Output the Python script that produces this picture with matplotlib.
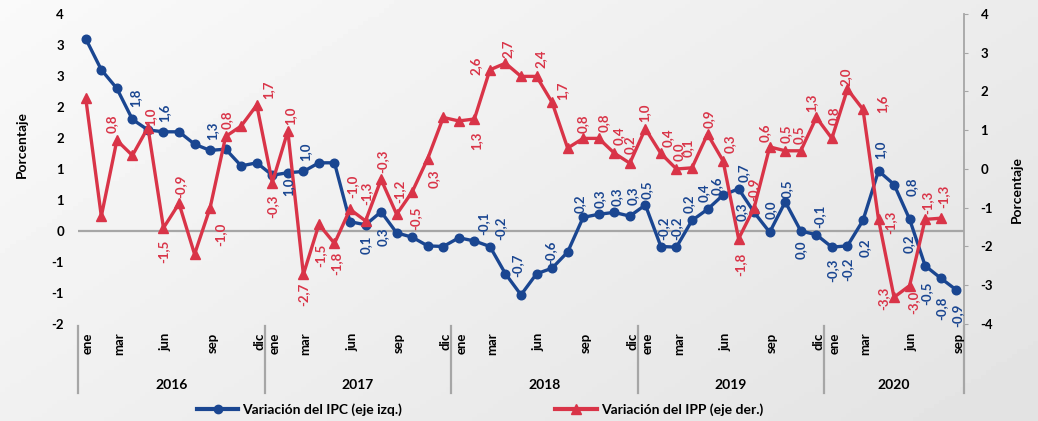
import numpy as np
import matplotlib.pyplot as plt
import matplotlib.transforms as mtransforms
from matplotlib.lines import Line2D

plt.rcParams['font.family'] = ['Lato', 'DejaVu Sans']

# --- Data ---
years = ['2016', '2017', '2018', '2019', '2020']
months_per_year = [12, 12, 12, 12, 9]
month_names = ['ene', 'feb', 'mar', 'abr', 'may', 'jun', 'jul', 'ago', 'sep', 'oct', 'nov', 'dic']
shown_months = ['ene', 'mar', 'jun', 'sep', 'dic']

ipc = [3.1, 2.6, 2.3, 1.8, 1.63, 1.6, 1.6, 1.4, 1.3, 1.32, 1.05, 1.1,
       0.9, 0.94, 0.96, 1.1, 1.1, 0.15, 0.1, 0.31, -0.03, -0.1, -0.24, -0.25,
       -0.11, -0.16, -0.25, -0.69, -1.03, -0.69, -0.6, -0.34, 0.22, 0.27, 0.3, 0.24,
       0.42, -0.25, -0.26, 0.17, 0.35, 0.58, 0.68, 0.3, -0.02, 0.47, 0.0, -0.06,
       -0.26, -0.24, 0.17, 0.97, 0.75, 0.19, -0.56, -0.76, -0.95]

ipp = [1.82, -1.22, 0.74, 0.35, 1.07, -1.52, -0.89, -2.2, -1.0, 0.84, 1.11, 1.65,
       -0.35, 0.98, -2.72, -1.43, -1.92, -1.04, -1.34, -0.27, -1.17, -0.59, 0.27, 1.33,
       1.24, 1.29, 2.56, 2.73, 2.39, 2.39, 1.72, 0.54, 0.79, 0.79, 0.41, 0.15,
       1.04, 0.40, 0.0, 0.03, 0.90, 0.21, -1.80, -1.0, 0.57, 0.47, 0.47, 1.33,
       0.79, 2.06, 1.54, -1.30, -3.31, -3.01, -1.30, -1.27, np.nan]

left_ticks = [-1.5, -1.0, -0.5, 0.0, 0.5, 1.0, 1.5, 2.0, 2.5, 3.0, 3.5]
left_tick_labels = ['-2', '-1', '-1', '0', '1', '1', '2', '2', '3', '3', '4']
right_ticks = [-4, -3, -2, -1, 0, 1, 2, 3, 4]

# data labels: month index and text
ipc_lbl_idx = [3, 5, 8, 13, 14, 18, 19, 26, 27, 28, 30, 32, 33, 34, 35, 36, 37, 38,
               39, 40, 41, 42, 43, 44, 45, 46, 47, 48, 49, 50, 51, 52, 53, 54, 55, 56]
ipc_lbl_txt = ['1,8', '1,6', '1,3', '1,0', '1,0', '0,1', '0,3', '-0,1', '-0,2', '-0,7',
               '-0,6', '0,2', '0,3', '0,3', '0,3', '0,5', '-0,2', '-0,2', '0,2', '0,4',
               '0,6', '0,7', '0,3', '0,0', '0,5', '0,0', '-0,1', '-0,3', '-0,2', '0,2',
               '1,0', '0,8', '0,2', '-0,5', '-0,8', '-0,9']
ipp_lbl_idx = [2, 4, 5, 6, 8, 9, 11, 12, 13, 14, 15, 16, 17, 18, 19, 20, 21, 22, 25, 26,
               27, 29, 30, 32, 33, 34, 35, 36, 37, 38, 39, 40, 41, 42, 43, 44, 45, 46,
               47, 48, 49, 50, 51, 52, 53, 54, 55]
ipp_lbl_txt = ['0,8', '1,0', '-1,5', '-0,9', '-1,0', '0,8', '1,7', '-0,3', '1,0', '-2,7',
               '-1,5', '-1,8', '-1,0', '-1,3', '-0,3', '-1,2', '-0,5', '0,3', '1,3', '2,6',
               '2,7', '2,4', '1,7', '0,8', '0,8', '0,4', '0,2', '1,0', '0,4', '0,0',
               '0,1', '0,9', '0,3', '-1,8', '-0,9', '0,6', '0,5', '0,5', '1,3', '0,8',
               '2,0', '1,6', '-1,3', '-3,3', '-3,0', '-1,3', '-1,3']

# label offsets from the point (pixels)
ipc_lbl_off = [(3, 22), (1, 19), (2, 20), (0, -14), (2, 20), (0, -20), (2, -25), (-7, 23),
               (-5, 45), (-4, 30), (-2, 16), (-3, 14), (1, 16), (2, 16), (3, 20), (1, 15),
               (2, 18), (0, 19), (-3, 17), (-4, 17), (-6, 9), (5, 16), (-12, 1), (1, 23),
               (1, 13), (0, -19), (3, 18), (0, -23), (0, -23), (2, -27), (2, 21), (18, -2),
               (-1, -25), (1, -28), (1, -30), (1, -25)]
ipp_lbl_off = [(-5, 17), (2, 11), (0, -23), (1, 17), (10, -27), (1, 17), (12, 15), (0, -24),
               (2, 15), (0, -20), (1, -31), (2, -20), (2, 23), (1, 28), (1, 18), (3, 23),
               (3, -26), (6, -20), (2, -22), (-14, 4), (2, 14), (4, 18), (10, 12), (0, 15),
               (5, 16), (4, 17), (0, 18), (-1, 16), (7, 16), (2, 17), (-4, 20), (1, 15),
               (7, 17), (2, -26), (-1, 18), (-5, 14), (0, 17), (-2, 16), (-5, 15), (2, 23),
               (-2, 12), (19, 6), (12, -3), (-11, -1), (4, -17), (2, 17), (3, 22)]

blue = '#1a4691'
red = '#d93448'
gray = '#a6a6a6'

x = np.arange(len(ipc))

fig = plt.figure(figsize=(10.38, 4.21), dpi=100)

# soft gradient background
ax_bg = fig.add_axes([0, 0, 1, 1], zorder=-1)
gx, gy = np.meshgrid(np.linspace(0, 1, 200), np.linspace(0, 1, 100))
grad = 0.978 - 0.055 * gx - 0.035 * gy
ax_bg.imshow(grad, cmap='gray', vmin=0, vmax=1, aspect='auto', extent=(0, 1, 0, 1), origin='upper')
ax_bg.axis('off')

ax = fig.add_axes([78 / 1038, 1 - 324 / 421, (964 - 78) / 1038, 310 / 421])
ax.set_facecolor('none')
ax2 = ax.twinx()

ax.axhline(0, color=gray, lw=1.6, zorder=1)
ax.plot(x, ipc, color=blue, lw=2.4, marker='o', ms=6.2, zorder=3)
ax2.plot(x, ipp, color=red, lw=2.4, marker='^', ms=7.5, zorder=3)

ax.set_xlim(-0.5, len(ipc) - 0.5)
ax.set_ylim(-1.5, 3.5)
ax2.set_ylim(-4, 4)

ax.set_yticks(left_ticks)
ax.set_yticklabels(left_tick_labels, fontsize=9.5, fontweight='bold')
ax.tick_params(axis='y', length=0, pad=10)
ax.set_xticks([])
ax2.set_yticks(right_ticks)
ax2.set_yticklabels([str(t) for t in right_ticks], fontsize=9.5, fontweight='bold')
ax2.tick_params(axis='y', length=3, color=gray, pad=9)

for a in (ax, ax2):
    for s in ['top', 'bottom', 'left']:
        a.spines[s].set_visible(False)
ax.spines['right'].set_visible(False)
ax2.spines['right'].set_color(gray)
ax2.spines['right'].set_linewidth(1.3)

# data labels
for i, txt, (dx, dy) in zip(ipc_lbl_idx, ipc_lbl_txt, ipc_lbl_off):
    ax2.annotate(txt, xy=(i, ipc[i]), xycoords=ax.transData, xytext=(dx, dy),
                 textcoords='offset pixels', rotation=90, ha='center', va='center',
                 fontsize=9.5, fontweight='bold', color=blue, zorder=5)
for i, txt, (dx, dy) in zip(ipp_lbl_idx, ipp_lbl_txt, ipp_lbl_off):
    ax2.annotate(txt, xy=(i, ipp[i]), xycoords='data', xytext=(dx, dy),
                 textcoords='offset pixels', rotation=90, ha='center', va='center',
                 fontsize=9.5, fontweight='bold', color=red, zorder=5)

# two-level category axis
trans = mtransforms.blended_transform_factory(ax.transData, ax.transAxes)
start = 0
bounds = [-0.5]
for yr, n in zip(years, months_per_year):
    for m in range(n):
        if month_names[m] in shown_months:
            ax.text(start + m + 0.15, -0.027, month_names[m], transform=trans, rotation=90,
                    ha='center', va='top', fontsize=9.5, fontweight='bold')
    ax.text(start + (n - 1) / 2, -0.197, yr, transform=trans, ha='center', va='center',
            fontsize=10, fontweight='bold')
    start += n
    bounds.append(start - 0.5)
for b in bounds:
    ax.plot([b, b], [-0.006, -0.223], transform=trans, color=gray, lw=1.6, clip_on=False)

fig.text(22 / 1038, 1 - 144 / 421, 'Porcentaje', rotation=90, ha='center', va='center',
         fontsize=10, fontweight='bold')
fig.text(1017 / 1038, 1 - 190 / 421, 'Porcentaje', rotation=90, ha='center', va='center',
         fontsize=10, fontweight='bold')

handles = [Line2D([], [], color=blue, lw=3, marker='o', ms=6),
           Line2D([], [], color=red, lw=3, marker='^', ms=7.5)]
fig.legend(handles, ['Variación del IPC (eje izq.)', 'Variación del IPP (eje der.)'],
           loc='center', bbox_to_anchor=(480 / 1038, 1 - 410 / 421), ncol=2, frameon=False,
           handlelength=3.0, handletextpad=0.3, columnspacing=11,
           prop={'size': 10, 'weight': 'bold'})

fig.savefig('out.png', dpi=100)
